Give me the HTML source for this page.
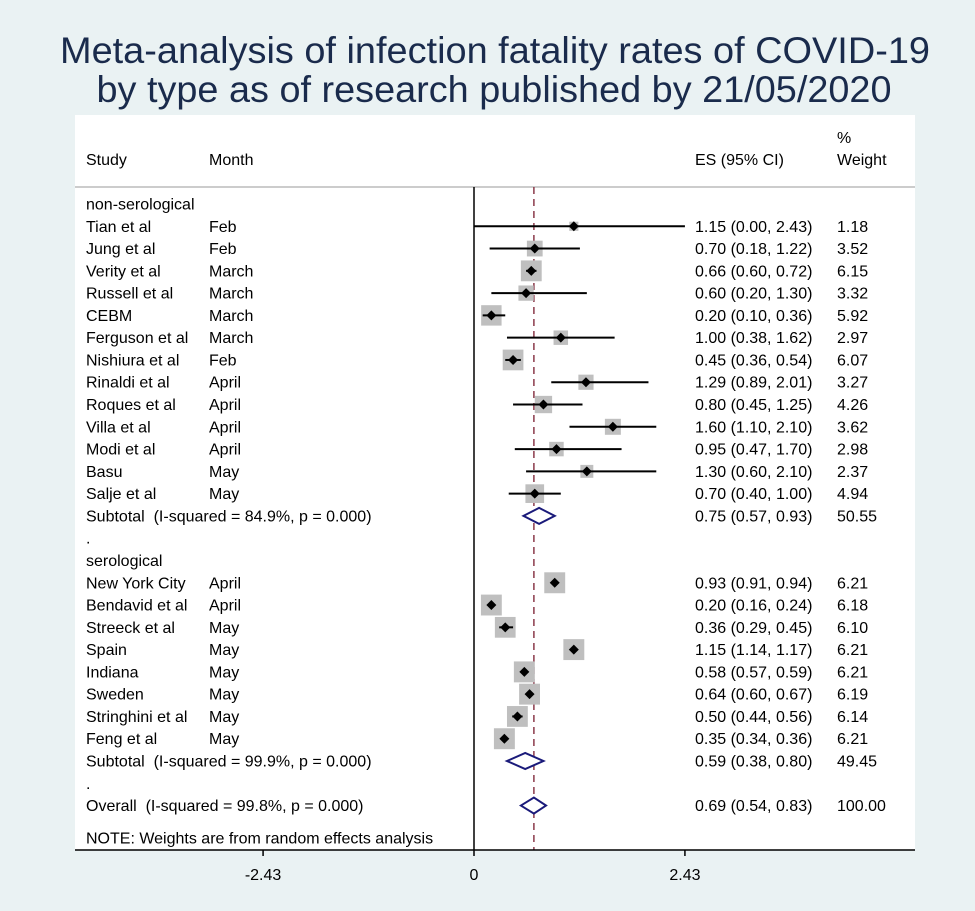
<!DOCTYPE html>
<html><head><meta charset="utf-8"><style>
body{margin:0;background:#eaf2f3;}
svg{display:block;font-family:"Liberation Sans",Arial,sans-serif;}
text{white-space:pre;}
</style></head><body>
<svg id="chart" width="975" height="911" xmlns="http://www.w3.org/2000/svg">
<rect x="0" y="0" width="975" height="911" fill="#eaf2f3"/>
<text x="495" y="63" text-anchor="middle" font-size="37" fill="#1a2b4c" textLength="870" lengthAdjust="spacingAndGlyphs">Meta-analysis of infection fatality rates of COVID-19</text>
<text x="494" y="102" text-anchor="middle" font-size="37" fill="#1a2b4c" textLength="795" lengthAdjust="spacingAndGlyphs">by type as of research published by 21/05/2020</text>
<rect x="75" y="115" width="840" height="735" fill="#ffffff"/>
<line x1="75" y1="187" x2="915" y2="187" stroke="#cccccc" stroke-width="2"/>
<g font-size="16" fill="#000">
<text x="86" y="165">Study</text>
<text x="209" y="165">Month</text>
<text x="695" y="165">ES (95% CI)</text>
<text x="837" y="143">%</text>
<text x="837" y="165">Weight</text>
</g>
<g id="rows"></g>
</svg>
<script>
const studies = ["Tian et al","Jung et al","Verity et al","Russell et al","CEBM","Ferguson et al","Nishiura et al","Rinaldi et al","Roques et al","Villa et al","Modi et al","Basu","Salje et al",
"New York City","Bendavid et al","Streeck et al","Spain","Indiana","Sweden","Stringhini et al","Feng et al"];
const months = ["Feb","Feb","March","March","March","March","Feb","April","April","April","April","May","May",
"April","April","May","May","May","May","May","May"];
const es = [1.15,0.70,0.66,0.60,0.20,1.00,0.45,1.29,0.80,1.60,0.95,1.30,0.70, 0.93,0.20,0.36,1.15,0.58,0.64,0.50,0.35];
const lo = [0.00,0.18,0.60,0.20,0.10,0.38,0.36,0.89,0.45,1.10,0.47,0.60,0.40, 0.91,0.16,0.29,1.14,0.57,0.60,0.44,0.34];
const hi = [2.43,1.22,0.72,1.30,0.36,1.62,0.54,2.01,1.25,2.10,1.70,2.10,1.00, 0.94,0.24,0.45,1.17,0.59,0.67,0.56,0.36];
const weights = [1.18,3.52,6.15,3.32,5.92,2.97,6.07,3.27,4.26,3.62,2.98,2.37,4.94, 6.21,6.18,6.10,6.21,6.21,6.19,6.14,6.21];
const subtotalLabels = ["Subtotal  (I-squared = 84.9%, p = 0.000)","Subtotal  (I-squared = 99.9%, p = 0.000)","Overall  (I-squared = 99.8%, p = 0.000)"];
const pooledEs = [0.75,0.59,0.69];
const pooledLo = [0.57,0.38,0.54];
const pooledHi = [0.93,0.80,0.83];
const pooledW = [50.55,49.45,100.00];
const xTicks = [-2.43,0,2.43];
const overallEs = 0.69;

const NS="http://www.w3.org/2000/svg";
const g=document.getElementById('rows');
const xScale=v=>474+v*86.8;
const yRow=i=>204+22.28*i;
const fmt=v=>v.toFixed(2);
function mk(tag,attrs,txt){const e=document.createElementNS(NS,tag);for(const k in attrs)e.setAttribute(k,attrs[k]);if(txt!==undefined)e.textContent=txt;g.appendChild(e);return e;}
function txt(x,y,s,name){const e=mk('text',{x:x,y:y+5.5,'font-size':16,fill:'#000'},s);

return e;}

let zl=mk('line',{x1:xScale(0),y1:187,x2:xScale(0),y2:850,stroke:'#000','stroke-width':1.5});


let dl=mk('line',{x1:xScale(overallEs),y1:187,x2:xScale(overallEs),y2:850,stroke:'#8b3a4a','stroke-width':1.5,'stroke-dasharray':'7,5'});



txt(86,yRow(0),'non-serological','group-label-nonserological');
txt(86,yRow(16),'serological','group-label-serological');
txt(86,yRow(15),'.','spacer-dot');
txt(86,yRow(26),'.','spacer-dot');

studies.forEach((s,k)=>{
  const i = k<13 ? k+1 : k+4;
  const y=yRow(i);
  txt(86,y,s,'study-label');
  txt(209,y,months[k],'month-label');
  txt(695,y,fmt(es[k])+' ('+fmt(lo[k])+', '+fmt(hi[k])+')','es-ci-label');
  txt(837,y,fmt(weights[k]),'weight-label');
  const side=8.4*Math.sqrt(weights[k]);
  const b=mk('rect',{x:xScale(es[k])-side/2,y:y-side/2,width:side,height:side,fill:'#bfbfbf'});
  
  
  const l=mk('line',{x1:xScale(lo[k]),y1:y,x2:xScale(hi[k]),y2:y,stroke:'#000','stroke-width':2});
  
  
  const d=5,cx=xScale(es[k]);
  const p=mk('polygon',{points:`${cx-d},${y} ${cx},${y-d} ${cx+d},${y} ${cx},${y+d}`,fill:'#000'});
  
  
});

[14,25,27].forEach((i,k)=>{
  const y=yRow(i);
  txt(86,y,subtotalLabels[k],k<2?'subtotal-label':'overall-label');
  txt(695,y,fmt(pooledEs[k])+' ('+fmt(pooledLo[k])+', '+fmt(pooledHi[k])+')','pooled-es-label');
  txt(837,y,fmt(pooledW[k]),'pooled-weight-label');
  const h=8;
  const p=mk('polygon',{points:`${xScale(pooledLo[k])},${y} ${xScale(pooledEs[k])},${y-h} ${xScale(pooledHi[k])},${y} ${xScale(pooledEs[k])},${y+h}`,fill:'#fff',stroke:'#1a1a7a','stroke-width':2});
  
  
});

txt(86,838,'NOTE: Weights are from random effects analysis','note-label');

const ax=mk('line',{x1:75,y1:850,x2:915,y2:850,stroke:'#000','stroke-width':1.5});


xTicks.forEach(t=>{
  const x=xScale(t);
  const tk=mk('line',{x1:x,y1:850,x2:x,y2:856,stroke:'#000','stroke-width':1.5});
  
  
  const lb=mk('text',{x:x,y:880,'text-anchor':'middle','font-size':16,fill:'#000'},t===0?'0':fmt(t));
  
  
});
</script>
</body></html>
